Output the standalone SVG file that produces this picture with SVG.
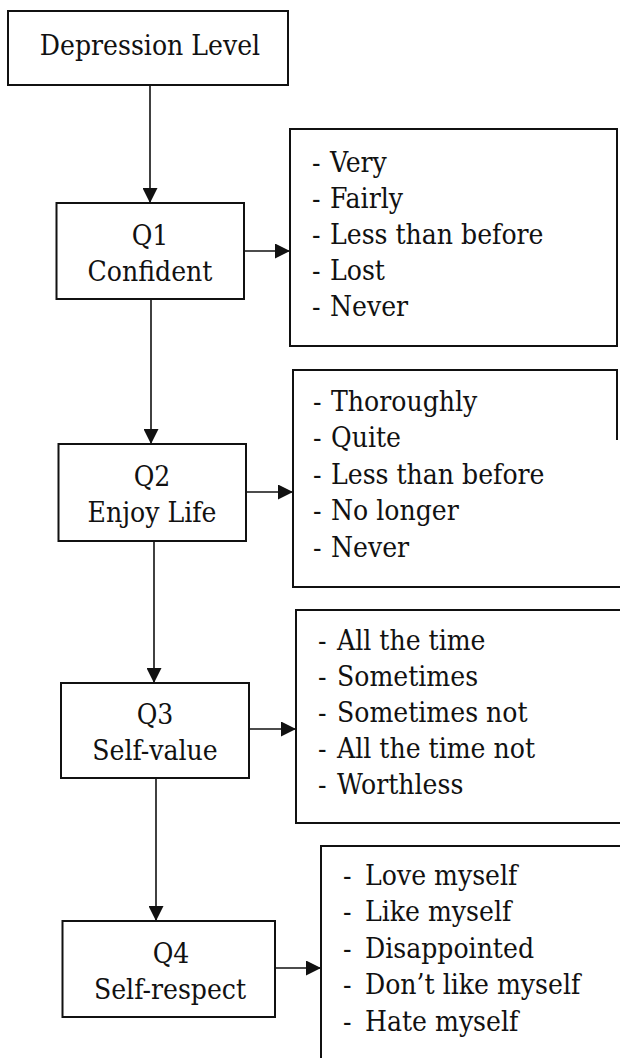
<svg xmlns="http://www.w3.org/2000/svg" width="620" height="1058" viewBox="0 0 620 1058">
  <style>
    .box { fill: #ffffff; stroke: #111111; stroke-width: 2; }
    .edge { fill: none; stroke: #111111; stroke-width: 2; }
    .wire { fill: none; stroke: #111111; stroke-width: 1.6; }
    text { font-family: 'DejaVu Serif Condensed', 'DejaVu Serif', 'Liberation Serif', serif; font-stretch: condensed; font-size: 28px; fill: #111111; }
    .mid { text-anchor: middle; }
  </style>
  <defs>
    <marker id="head" viewBox="0 0 10 10" refX="10" refY="5" markerWidth="15" markerHeight="15" markerUnits="userSpaceOnUse" orient="auto">
      <path d="M0,0 L10,5 L0,10 Z" fill="#111111"/>
    </marker>
  </defs>
  <rect width="620" height="1058" fill="#ffffff"/>

  <!-- connectors -->
  <g id="connectors">
    <line class="wire" x1="150" y1="85" x2="150" y2="203" marker-end="url(#head)"/>
    <line class="wire" x1="151" y1="299" x2="151" y2="444" marker-end="url(#head)"/>
    <line class="wire" x1="154" y1="541" x2="154" y2="683" marker-end="url(#head)"/>
    <line class="wire" x1="156" y1="778" x2="156" y2="921" marker-end="url(#head)"/>
    <line class="wire" x1="244" y1="251" x2="290" y2="251" marker-end="url(#head)"/>
    <line class="wire" x1="246" y1="492" x2="293" y2="492" marker-end="url(#head)"/>
    <line class="wire" x1="249" y1="729" x2="296" y2="729" marker-end="url(#head)"/>
    <line class="wire" x1="275" y1="968" x2="321" y2="968" marker-end="url(#head)"/>
  </g>

  <!-- root -->
  <g id="depression-level">
    <rect class="box" x="8" y="11" width="280" height="74"/>
    <text class="mid" x="150" y="55">Depression Level</text>
  </g>

  <!-- questions -->
  <g id="q1">
    <rect class="box" x="56.5" y="203" width="187.5" height="96"/>
    <text class="mid" x="150" y="245">Q1</text>
    <text class="mid" x="150" y="281">Confident</text>
  </g>
  <g id="q2">
    <rect class="box" x="58.5" y="444" width="187.5" height="97"/>
    <text class="mid" x="152" y="486">Q2</text>
    <text class="mid" x="152" y="522">Enjoy Life</text>
  </g>
  <g id="q3">
    <rect class="box" x="61" y="683" width="188" height="95"/>
    <text class="mid" x="155" y="724">Q3</text>
    <text class="mid" x="155" y="760">Self-value</text>
  </g>
  <g id="q4">
    <rect class="box" x="62.5" y="921" width="212.5" height="96"/>
    <text class="mid" x="171" y="963">Q4</text>
    <text class="mid" x="170" y="999">Self-respect</text>
  </g>

  <!-- answer lists -->
  <g id="answers-q1">
    <rect class="box" x="290" y="129" width="327" height="217"/>
    <text><tspan x="312" y="172">-</tspan><tspan x="330" y="172">Very</tspan></text>
    <text><tspan x="312" y="208">-</tspan><tspan x="330" y="208">Fairly</tspan></text>
    <text><tspan x="312" y="244">-</tspan><tspan x="330" y="244">Less than before</tspan></text>
    <text><tspan x="312" y="280">-</tspan><tspan x="330" y="280">Lost</tspan></text>
    <text><tspan x="312" y="316">-</tspan><tspan x="330" y="316">Never</tspan></text>
  </g>
  <g id="answers-q2">
    <path class="edge" d="M617,440 L617,370 L293,370 L293,587 L620,587"/>
    <text><tspan x="313" y="411">-</tspan><tspan x="331" y="411">Thoroughly</tspan></text>
    <text><tspan x="313" y="447">-</tspan><tspan x="331" y="447">Quite</tspan></text>
    <text><tspan x="313" y="484">-</tspan><tspan x="331" y="484">Less than before</tspan></text>
    <text><tspan x="313" y="520">-</tspan><tspan x="331" y="520">No longer</tspan></text>
    <text><tspan x="313" y="557">-</tspan><tspan x="331" y="557">Never</tspan></text>
  </g>
  <g id="answers-q3">
    <path class="edge" d="M620,610 L296,610 L296,823 L620,823"/>
    <text><tspan x="318" y="650">-</tspan><tspan x="337" y="650">All the time</tspan></text>
    <text><tspan x="318" y="686">-</tspan><tspan x="337" y="686">Sometimes</tspan></text>
    <text><tspan x="318" y="722">-</tspan><tspan x="337" y="722">Sometimes not</tspan></text>
    <text><tspan x="318" y="758">-</tspan><tspan x="337" y="758">All the time not</tspan></text>
    <text><tspan x="318" y="794">-</tspan><tspan x="337" y="794">Worthless</tspan></text>
  </g>
  <g id="answers-q4">
    <path class="edge" d="M620,846 L321,846 L321,1058"/>
    <text><tspan x="343" y="885">-</tspan><tspan x="365" y="885">Love myself</tspan></text>
    <text><tspan x="343" y="921">-</tspan><tspan x="365" y="921">Like myself</tspan></text>
    <text><tspan x="343" y="958">-</tspan><tspan x="365" y="958">Disappointed</tspan></text>
    <text><tspan x="343" y="994">-</tspan><tspan x="365" y="994">Don’t like myself</tspan></text>
    <text><tspan x="343" y="1031">-</tspan><tspan x="365" y="1031">Hate myself</tspan></text>
  </g>
</svg>
